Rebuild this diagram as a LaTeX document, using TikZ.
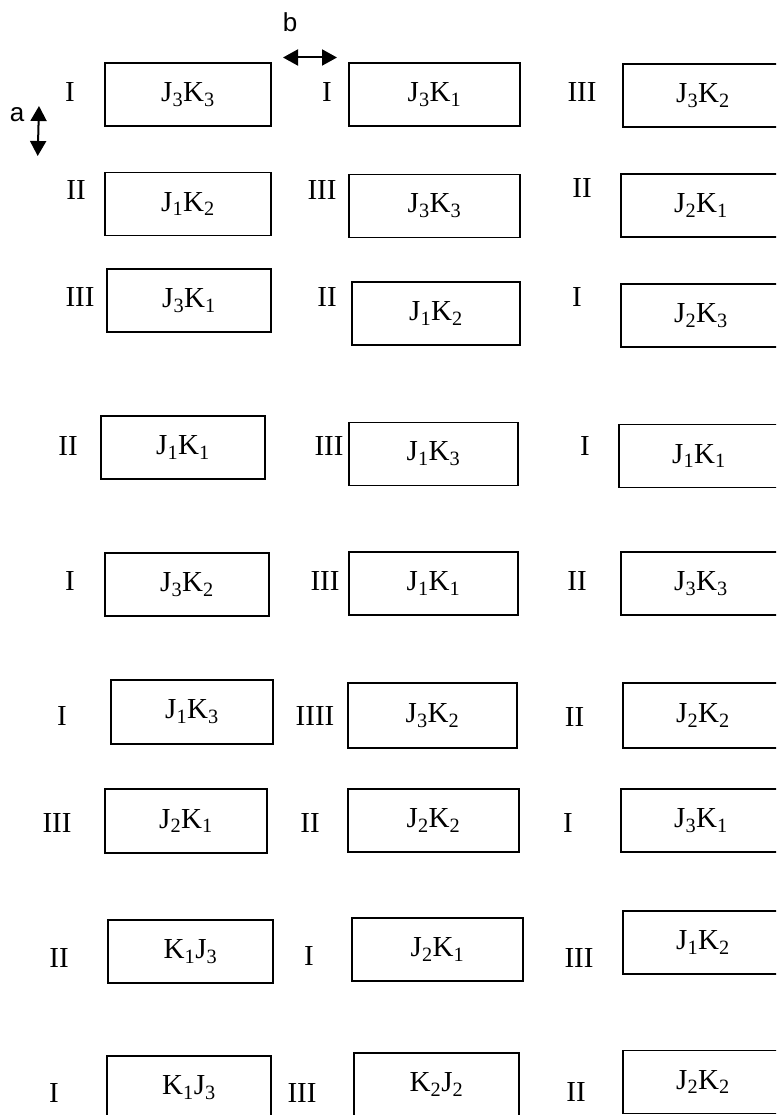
\documentclass[tikz,border=0pt]{standalone}
\usepackage{fontspec}
\usepackage{tikz}
\usetikzlibrary{arrows.meta}
\newfontfamily\cellfont{Liberation Serif}
\newfontfamily\dimfont{Liberation Sans}

\begin{document}
\begin{tikzpicture}[
    x=1pt, y=-1pt,
    cell/.style={rectangle, draw=black, line width=1.5pt, minimum width=#1, minimum height=63pt, inner sep=0pt, font=\cellfont\fontsize{29}{34}\selectfont},
    cell/.default=166pt,
    replabel/.style={inner sep=0pt, font=\cellfont\fontsize{29}{34}\selectfont},
    dimlabel/.style={inner sep=0pt, font=\dimfont\fontsize{26}{30}\selectfont},
    arr/.style={{Triangle[length=15pt, width=16pt]}-{Triangle[length=15pt, width=16pt]}, line width=2pt},
]
\useasboundingbox (0,0) rectangle (776,1115);
\clip (0,0) rectangle (776,1115);

% ─── Spacing marks a / b ───
\node[dimlabel] (blab) at (290,22) {b};
\coordinate (bl) at (283,57.5);
\coordinate (br) at (337,57.5);
\draw[arr] (bl) -- (br);
\node[dimlabel] (alab) at (17,115) {a};
\coordinate (at) at (39,106);
\coordinate (ab) at (37.7,156);
\draw[arr] (at) -- (ab);

% ─── Row 1 ───
\node[replabel] (n11) at (70,92) {I};
\node[cell] (c11) at (188,94.5) {J\textsubscript{3}K\textsubscript{3}};
\node[replabel] (n12) at (327,92) {I};
\node[cell=171pt] (c12) at (434.5,94.5) {J\textsubscript{3}K\textsubscript{1}};
\node[replabel] (n13) at (582,92) {III};
\node[cell=160pt] (c13) at (703,95.5) {J\textsubscript{3}K\textsubscript{2}};

% ─── Row 2 ───
\node[replabel] (n21) at (76,190) {II};
\node[cell] (c21) at (188,204) {J\textsubscript{1}K\textsubscript{2}};
\node[replabel] (n22) at (322,190) {III};
\node[cell=171pt] (c22) at (434.5,206) {J\textsubscript{3}K\textsubscript{3}};
\node[replabel] (n23) at (582,188) {II};
\node[cell=160pt] (c23) at (701,205.5) {J\textsubscript{2}K\textsubscript{1}};

% ─── Row 3 ───
\node[replabel] (n31) at (80,297.5) {III};
\node[cell=164pt] (c31) at (189,300.5) {J\textsubscript{3}K\textsubscript{1}};
\node[replabel] (n32) at (327,297.5) {II};
\node[cell=168pt] (c32) at (436,313.5) {J\textsubscript{1}K\textsubscript{2}};
\node[replabel] (n33) at (577,297) {I};
\node[cell=160pt] (c33) at (701,315.5) {J\textsubscript{2}K\textsubscript{3}};

% ─── Row 4 ───
\node[replabel] (n41) at (68,446) {II};
\node[cell=164pt] (c41) at (183,447.5) {J\textsubscript{1}K\textsubscript{1}};
\node[replabel] (n42) at (329,446) {III};
\node[cell=169pt] (c42) at (433.5,454) {J\textsubscript{1}K\textsubscript{3}};
\node[replabel] (n43) at (585,446) {I};
\node[cell=160pt] (c43) at (699,456) {J\textsubscript{1}K\textsubscript{1}};

% ─── Row 5 ───
\node[replabel] (n51) at (70,581) {I};
\node[cell=164pt] (c51) at (187,584.5) {J\textsubscript{3}K\textsubscript{2}};
\node[replabel] (n52) at (325,581) {III};
\node[cell=169pt] (c52) at (433.5,583.5) {J\textsubscript{1}K\textsubscript{1}};
\node[replabel] (n53) at (577,581) {II};
\node[cell=160pt] (c53) at (701,583.5) {J\textsubscript{3}K\textsubscript{3}};

% ─── Row 6 ───
\node[replabel] (n61) at (62,716) {I};
\node[cell=162pt, minimum height=64pt] (c61) at (192,712) {J\textsubscript{1}K\textsubscript{3}};
\node[replabel] (n62) at (315,716) {IIII};
\node[cell=169pt, minimum height=65pt] (c62) at (432.5,715.5) {J\textsubscript{3}K\textsubscript{2}};
\node[replabel] (n63) at (574.5,717) {II};
\node[cell=160pt, minimum height=65pt] (c63) at (703,715.5) {J\textsubscript{2}K\textsubscript{2}};

% ─── Row 7 ───
\node[replabel] (n71) at (57,822.5) {III};
\node[cell=162pt, minimum height=64pt] (c71) at (186,821) {J\textsubscript{2}K\textsubscript{1}};
\node[replabel] (n72) at (310,822.5) {II};
\node[cell=171pt] (c72) at (433.5,820.5) {J\textsubscript{2}K\textsubscript{2}};
\node[replabel] (n73) at (568,822.5) {I};
\node[cell=160pt] (c73) at (701,820.5) {J\textsubscript{3}K\textsubscript{1}};

% ─── Row 8 ───
\node[replabel] (n81) at (59,958) {II};
\node[cell=165pt] (c81) at (190.5,951.5) {K\textsubscript{1}J\textsubscript{3}};
\node[replabel] (n82) at (309,956) {I};
\node[cell=171pt] (c82) at (437.5,949.5) {J\textsubscript{2}K\textsubscript{1}};
\node[replabel] (n83) at (579,958) {III};
\node[cell=160pt] (c83) at (703,942.5) {J\textsubscript{1}K\textsubscript{2}};

% ─── Row 9 ───
\node[replabel] (n91) at (54,1093) {I};
\node[cell=164pt] (c91) at (189,1087.5) {K\textsubscript{1}J\textsubscript{3}};
\node[replabel] (n92) at (302,1093) {III};
\node[cell=165pt] (c92) at (436.5,1084.5) {K\textsubscript{2}J\textsubscript{2}};
\node[replabel] (n93) at (576,1092) {II};
\node[cell=160pt] (c93) at (703,1082) {J\textsubscript{2}K\textsubscript{2}};

\end{tikzpicture}
\end{document}
